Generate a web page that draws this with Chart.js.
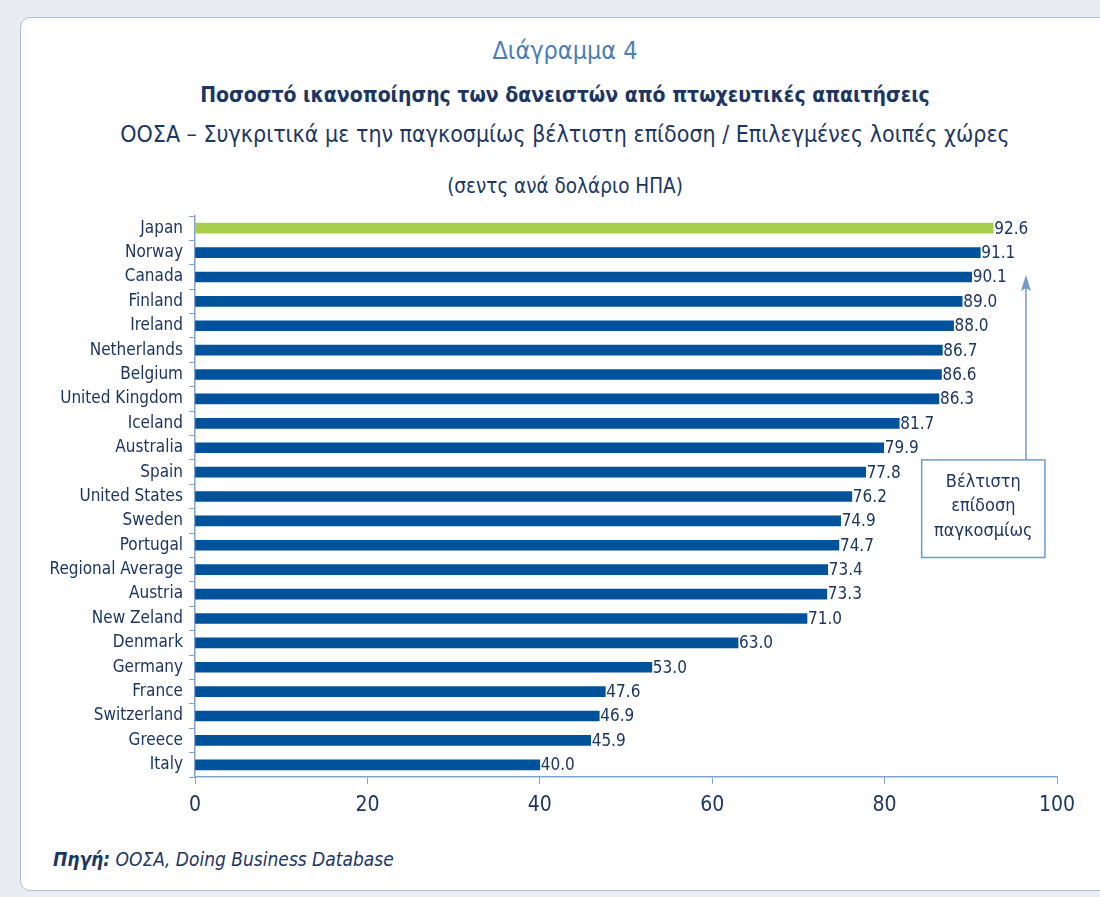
<!DOCTYPE html>
<html>
<head>
<meta charset="utf-8">
<script src="https://cdn.jsdelivr.net/npm/chart.js@4.4.1/dist/chart.umd.min.js"></script>
<style>
  body { margin: 0; width: 1100px; height: 897px; overflow: hidden; background: #e9edf1;
         font-family: "DejaVu Sans Condensed", "Liberation Sans Narrow", sans-serif; }
  #frame { position: absolute; left: 20px; top: 17px; width: 1110px; height: 872px;
           background: #fff; border: 1.5px solid #a9c0dc; border-radius: 10px; }
  .t { position: absolute; white-space: nowrap; color: #1c3664; text-align: center; left: 0; width: 1130px; }
  #chart { position: absolute; left: 0; top: 0; }
</style>
</head>
<body>
<div id="frame"></div>
<div class="t" style="top:36px;font-size:25px;color:#4b7db8;">Διάγραμμα 4</div>
<div class="t" style="top:83px;font-size:21px;font-weight:bold;">Ποσοστό ικανοποίησης των δανειστών από πτωχευτικές απαιτήσεις</div>
<div class="t" style="top:121px;font-size:23px;">ΟΟΣΑ – Συγκριτικά με την παγκοσμίως βέλτιστη επίδοση / Επιλεγμένες λοιπές χώρες</div>
<div class="t" style="top:174px;font-size:20.5px;">(σεντς ανά δολάριο ΗΠΑ)</div>
<div class="t" style="left:53px;width:auto;top:848px;font-size:19px;font-style:italic;text-align:left;"><b>Πηγή:</b> ΟΟΣΑ, Doing Business Database</div>
<canvas id="chart" width="1100" height="897"></canvas>
<script>
const countries = ['Japan', 'Norway', 'Canada', 'Finland', 'Ireland', 'Netherlands', 'Belgium',
  'United Kingdom', 'Iceland', 'Australia', 'Spain', 'United States', 'Sweden', 'Portugal',
  'Regional Average', 'Austria', 'New Zeland', 'Denmark', 'Germany', 'France', 'Switzerland',
  'Greece', 'Italy'];
const values = [92.6, 91.1, 90.1, 89.0, 88.0, 86.7, 86.6, 86.3, 81.7, 79.9, 77.8, 76.2, 74.9,
  74.7, 73.4, 73.3, 71.0, 63.0, 53.0, 47.6, 46.9, 45.9, 40.0];
const xTicks = [0, 20, 40, 60, 80, 100];
const bestLabel = ['Βέλτιστη', 'επίδοση', 'παγκοσμίως'];

const navy = '#1c3664';
const fontFam = '"DejaVu Sans Condensed", "Liberation Sans Narrow", sans-serif';
Chart.defaults.font.family = fontFam;
Chart.defaults.color = navy;

// numbers at the end of each bar
const valueLabels = {
  id: 'valueLabels',
  afterDatasetsDraw(chart) {
    const ctx = chart.ctx;
    const meta = chart.getDatasetMeta(0);
    ctx.save();
    ctx.font = '17px ' + fontFam;
    ctx.fillStyle = navy;
    ctx.textBaseline = 'middle';
    meta.data.forEach((bar, i) => {
      ctx.fillText(values[i].toFixed(1), bar.x + 1, bar.y + 1);
    });
    ctx.restore();
  }
};

// "best performance" box with arrow
const bestBox = {
  id: 'bestBox',
  afterDraw(chart) {
    const ctx = chart.ctx;
    const xs = chart.scales.x, ys = chart.scales.y;
    const ax = xs.getPixelForValue(96.4);
    const tipY = ys.getPixelForValue(2) - 2;
    const left = xs.getPixelForValue(84.3), right = xs.getPixelForValue(98.6);
    const top = ys.getPixelForValue(9.5), bottom = ys.getPixelForValue(13.5);
    ctx.save();
    ctx.strokeStyle = '#6f9acb';
    ctx.fillStyle = '#6f9acb';
    ctx.lineWidth = 1.5;
    ctx.beginPath();
    ctx.moveTo(ax, top);
    ctx.lineTo(ax, tipY + 12);
    ctx.stroke();
    ctx.beginPath();
    ctx.moveTo(ax, tipY);
    ctx.lineTo(ax - 5, tipY + 16);
    ctx.lineTo(ax, tipY + 13);
    ctx.lineTo(ax + 5, tipY + 16);
    ctx.closePath();
    ctx.fill();
    ctx.strokeRect(left, top, right - left, bottom - top);
    ctx.fillStyle = navy;
    ctx.font = '18px ' + fontFam;
    ctx.textAlign = 'center';
    ctx.textBaseline = 'middle';
    const cx = (left + right) / 2;
    const step = (bottom - top) / 4;
    bestLabel.forEach((line, i) => ctx.fillText(line, cx, top + step * (i + 1) - 2));
    ctx.restore();
  }
};

new Chart(document.getElementById('chart'), {
  type: 'bar',
  data: {
    labels: countries,
    datasets: [{
      data: values,
      backgroundColor: values.map((v, i) => i === 0 ? '#a7cf4c' : '#00529b'),
      barThickness: 10
    }]
  },
  options: {
    indexAxis: 'y',
    responsive: false,
    animation: false,
    devicePixelRatio: 1,
    layout: { padding: { top: 216, right: 43, left: 0, bottom: 0 } },
    plugins: { legend: { display: false }, tooltip: { enabled: false } },
    scales: {
      x: {
        min: 0, max: 100,
        afterBuildTicks(scale) { scale.ticks = xTicks.map(v => ({ value: v })); },
        afterFit(scale) { scale.height = 120; },
        ticks: { font: { size: 21 }, color: navy, padding: 9 },
        grid: { drawOnChartArea: false, tickLength: 7, color: '#7fa3cc' },
        border: { color: '#7fa3cc', width: 1.5 }
      },
      y: {
        afterFit(scale) { scale.width = 195; },
        ticks: { font: { size: 17 }, color: navy, padding: 6, autoSkip: false },
        grid: { offset: true, drawOnChartArea: false, tickLength: 6, color: '#7fa3cc' },
        border: { color: '#7fa3cc', width: 1.5 }
      }
    }
  },
  plugins: [valueLabels, bestBox]
});
</script>
</body>
</html>
